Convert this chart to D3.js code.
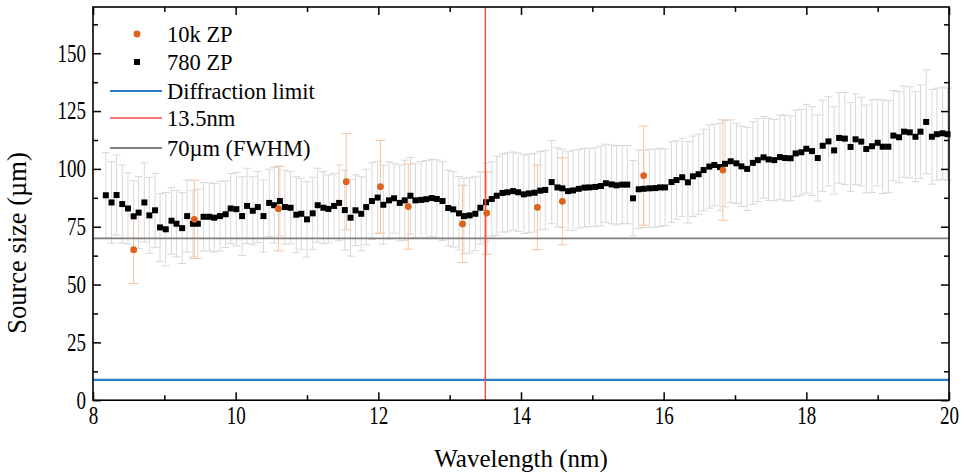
<!DOCTYPE html>
<html>
<head>
<meta charset="utf-8">
<script src="https://cdn.jsdelivr.net/npm/d3@7"></script>
<style>
  body { margin: 0; background: #fff; }
</style>
</head>
<body>
<svg id="chart" width="964" height="472"></svg>
<script>
// 780 ZP measurements (wavelength in nm, source size and error in um)
var wl780 = [8.18,8.26,8.33,8.41,8.49,8.57,8.64,8.72,8.79,8.87,8.94,9.02,9.10,9.17,9.25,9.32,9.40,9.47,9.55,9.63,9.70,9.78,9.86,9.93,10.01,
  10.09,10.16,10.24,10.31,10.39,10.47,10.54,10.62,10.69,10.77,10.85,10.92,11.00,11.08,11.15,11.23,11.30,11.38,11.45,11.53,11.61,11.68,11.76,11.83,11.91,11.99,
  12.07,12.15,12.22,12.30,12.37,12.45,12.52,12.60,12.67,12.75,12.82,12.90,12.98,13.05,13.13,13.20,13.28,13.36,13.43,13.51,13.59,13.66,13.74,13.81,13.89,13.96,
  14.04,14.11,14.19,14.27,14.34,14.43,14.51,14.58,14.66,14.73,14.81,14.89,14.96,15.04,15.12,15.19,15.27,15.34,15.42,15.49,15.57,15.65,15.72,15.80,15.88,15.95,
  16.02,16.11,16.18,16.26,16.34,16.41,16.49,16.56,16.64,16.71,16.79,16.86,16.94,17.02,17.09,17.17,17.25,17.32,17.40,17.47,17.55,17.63,17.70,17.78,17.85,17.93,18.00,
  18.08,18.16,18.23,18.31,18.39,18.46,18.54,18.62,18.69,18.77,18.84,18.92,19.00,19.07,19.15,19.22,19.30,19.37,19.45,19.53,19.60,19.68,19.76,19.83,19.91,19.98];
var size780 = [88.6,85.5,88.7,84.8,82.9,79.5,81.1,85.5,79.9,82.1,74.7,73.9,77.6,76.3,74.4,79.6,76.3,76.3,79.3,79.3,78.9,79.6,80.4,82.9,82.6,
  79.6,84.0,81.9,83.5,79.6,85.3,84.3,86.1,83.5,83.2,80.2,80.6,78.2,80.8,84.3,83.2,82.7,84.0,85.3,82.2,78.9,82.1,80.6,83.5,86.1,87.6,
  84.5,86.4,87.3,85.3,86.4,88.4,86.4,86.6,86.9,87.4,87.0,86.1,83.1,82.5,80.8,79.6,79.9,80.6,83.2,85.6,87.0,88.4,89.6,89.9,90.4,89.9,
  89.0,89.4,89.7,90.6,90.9,94.3,92.0,91.6,90.4,90.7,91.4,91.9,92.0,92.2,92.6,93.8,93.3,92.9,93.2,93.2,87.3,91.2,91.4,91.6,91.7,92.0,
  92.0,94.3,95.2,96.4,94.2,96.8,97.7,99.5,101.0,101.7,100.8,102.2,103.3,102.4,101.1,100.0,102.6,103.8,105.0,104.1,103.8,105.1,104.7,104.6,106.7,107.2,108.7,
  107.7,104.7,110.0,111.9,108.0,113.4,113.1,109.5,112.8,111.8,108.6,109.8,111.3,109.6,109.6,114.4,113.7,116.1,115.8,113.9,116.1,120.3,113.9,115.0,115.4,115.0];
var err780 = [18.4,17.6,17.3,16.9,15.4,15.4,15.6,17.1,16.4,16.0,14.7,15.9,14.4,14.3,15.3,15.6,14.3,15.0,14.8,14.7,14.8,15.1,14.4,15.1,15.9,
  17.0,16.3,14.7,15.3,15.6,14.6,16.4,15.1,16.0,15.6,16.4,15.3,16.3,15.6,16.0,15.6,14.7,14.1,16.4,17.3,16.6,15.3,16.0,16.3,16.6,15.6,
  17.1,16.7,15.1,16.4,17.4,16.6,16.0,16.6,16.7,16.7,16.9,17.0,16.4,16.3,15.9,16.3,16.3,16.0,15.6,16.9,16.1,17.1,16.9,17.1,16.9,16.9,
  17.0,17.0,17.0,16.9,17.0,18.0,17.1,16.9,17.0,17.4,17.0,17.0,16.9,17.0,17.3,16.9,17.0,17.1,16.9,16.9,16.3,17.0,16.7,16.9,16.9,16.9,
  16.6,17.4,17.0,16.9,17.6,17.4,17.4,17.6,18.0,17.7,18.9,18.6,17.9,17.3,17.4,18.0,17.9,18.0,17.6,17.7,17.6,18.2,18.6,18.3,18.7,18.6,19.2,
  19.2,18.6,19.7,19.3,18.9,19.6,19.9,19.2,19.6,19.2,19.0,20.0,18.7,20.2,19.9,19.5,19.7,19.7,19.7,19.5,20.2,22.5,20.5,19.9,19.9,19.9];

// 10k ZP measurements
var wl10k = [8.57, 9.42, 10.60, 11.55, 12.03, 12.42, 13.18, 13.52, 14.23, 14.58, 15.72, 16.83];
var size10k = [65.1, 78.2, 82.8, 94.5, 92.3, 83.7, 76.2, 80.9, 83.4, 86.0, 97.1, 99.5];
var err10k = [14.6, 16.9, 18.2, 20.8, 20.0, 18.4, 16.7, 17.8, 18.3, 18.8, 21.4, 21.7];

// reference lines
var diffractionLimit = 8.8;
var fwhmLine = 70;
var wlMarker = 13.5;

var legendLabels = ["10k ZP", "780 ZP", "Diffraction limit", "13.5nm", "70\u00b5m (FWHM)"];

var serif = "'Liberation Serif', 'Times New Roman', 'DejaVu Serif', serif";
var colOrange = "rgb(221,98,28)";
var colOrangeErr = "rgb(246,196,160)";
var colGrayErr = "rgb(216,216,216)";
var colBlue = "rgb(40,126,200)";
var colRed = "rgb(238,80,70)";
var colGray = "rgb(128,128,128)";

var pLeft = 93, pRight = 949, pTop = 7, pBottom = 400.2;

var x = d3.scaleLinear().domain([8, 20]).range([pLeft, pRight]);
var y = d3.scaleLinear().domain([0, 170]).range([pBottom, pTop]);

var svg = d3.select("#chart");

var d780 = wl780.map(function(w, i) { return {x: w, y: size780[i], e: err780[i]}; });
var d10k = wl10k.map(function(w, i) { return {x: w, y: size10k[i], e: err10k[i]}; });

function errorBars(data, color, cap, width) {
    var g = svg.append("g").attr("stroke", color).attr("stroke-width", width).attr("fill", "none");
    g.selectAll("path")
        .data(data)
        .enter()
        .append("path")
            .attr("d", function(d) {
                var cx = x(d.x), y1 = y(d.y + d.e), y2 = y(d.y - d.e);
                return "M" + cx + "," + y1 + "V" + y2 +
                    "M" + (cx - cap) + "," + y1 + "H" + (cx + cap) +
                    "M" + (cx - cap) + "," + y2 + "H" + (cx + cap);
            });
}

errorBars(d780, colGrayErr, 4, 1);
errorBars(d10k, colOrangeErr, 5, 1);

// horizontal reference lines
svg.append("line")
    .attr("x1", pLeft).attr("x2", pRight)
    .attr("y1", y(fwhmLine)).attr("y2", y(fwhmLine))
    .attr("stroke", colGray).attr("stroke-width", 1.8);
svg.append("line")
    .attr("x1", pLeft).attr("x2", pRight)
    .attr("y1", y(diffractionLimit)).attr("y2", y(diffractionLimit))
    .attr("stroke", colBlue).attr("stroke-width", 2.2);

// 780 ZP squares
svg.append("g")
    .selectAll("rect")
    .data(d780)
    .enter()
    .append("rect")
        .attr("x", function(d) { return x(d.x) - 3; })
        .attr("y", function(d) { return y(d.y) - 3; })
        .attr("width", 6)
        .attr("height", 6)
        .attr("fill", "#000");

// 13.5 nm marker
svg.append("line")
    .attr("x1", x(wlMarker)).attr("x2", x(wlMarker))
    .attr("y1", pTop).attr("y2", pBottom)
    .attr("stroke", colRed).attr("stroke-width", 1.5);

// 10k ZP dots
svg.append("g")
    .selectAll("circle")
    .data(d10k)
    .enter()
    .append("circle")
        .attr("cx", function(d) { return x(d.x); })
        .attr("cy", function(d) { return y(d.y); })
        .attr("r", 3.4)
        .attr("fill", colOrange);

// Axes (ticks point inward on all four sides)
var major = [8, 10, 12, 14, 16, 18, 20];
var minorX = [9, 11, 13, 15, 17, 19];
var majorY = [0, 25, 50, 75, 100, 125, 150];
var minorY = [12.5, 37.5, 62.5, 87.5, 112.5, 137.5, 162.5];

function axisGroup(axis, tx, ty) {
    var g = svg.append("g").attr("transform", "translate(" + tx + "," + ty + ")").call(axis);
    g.select(".domain").remove();
    g.attr("font-family", null).attr("font-size", null);
    g.selectAll("line").attr("stroke", "#000").attr("stroke-width", 1.5);
    return g;
}

var xb = axisGroup(d3.axisBottom(x).tickValues(major).tickSize(-8).tickPadding(5).tickFormat(d3.format("d")), 0, pBottom);
axisGroup(d3.axisBottom(x).tickValues(minorX).tickSize(-5).tickFormat(""), 0, pBottom);
axisGroup(d3.axisTop(x).tickValues(major).tickSize(-8).tickFormat(""), 0, pTop);
axisGroup(d3.axisTop(x).tickValues(minorX).tickSize(-5).tickFormat(""), 0, pTop);
var yl = axisGroup(d3.axisLeft(y).tickValues(majorY).tickSize(-8).tickPadding(7).tickFormat(d3.format("d")), pLeft, 0);
axisGroup(d3.axisLeft(y).tickValues(minorY).tickSize(-5).tickFormat(""), pLeft, 0);
axisGroup(d3.axisRight(y).tickValues(majorY).tickSize(-8).tickFormat(""), pRight, 0);
axisGroup(d3.axisRight(y).tickValues(minorY).tickSize(-5).tickFormat(""), pRight, 0);

// tick labels in the original are drawn taller than wide
xb.selectAll("text").style("font-family", serif).style("font-size", "19px").attr("fill", "#000")
    .attr("transform", "scale(1,1.3)");
yl.selectAll("text").style("font-family", serif).style("font-size", "19px").attr("fill", "#000")
    .attr("transform", "scale(1,1.3)");

// frame
svg.append("rect")
    .attr("x", pLeft).attr("y", pTop)
    .attr("width", pRight - pLeft).attr("height", pBottom - pTop)
    .attr("fill", "none").attr("stroke", "#000").attr("stroke-width", 1.6);

// Axis labels
svg.append("text")
    .attr("x", (pLeft + pRight) / 2)
    .attr("y", 467)
    .style("text-anchor", "middle")
    .style("font-family", serif)
    .style("font-size", "25px")
    .text("Wavelength (nm)");

svg.append("text")
    .attr("transform", "rotate(-90)")
    .attr("x", -243)
    .attr("y", 26)
    .style("text-anchor", "middle")
    .style("font-family", serif)
    .style("font-size", "26.5px")
    .text("Source size (\u00b5m)");

// Legend
var legY = [34, 62, 91, 118, 148];
var leg = svg.append("g");
leg.append("circle").attr("cx", 137).attr("cy", legY[0]).attr("r", 3.4).attr("fill", colOrange);
leg.append("rect").attr("x", 134).attr("y", legY[1] - 3).attr("width", 6).attr("height", 6).attr("fill", "#000");
leg.append("line").attr("x1", 110).attr("x2", 162).attr("y1", legY[2]).attr("y2", legY[2]).attr("stroke", colBlue).attr("stroke-width", 2);
leg.append("line").attr("x1", 110).attr("x2", 162).attr("y1", legY[3]).attr("y2", legY[3]).attr("stroke", colRed).attr("stroke-width", 1.5);
leg.append("line").attr("x1", 110).attr("x2", 162).attr("y1", legY[4]).attr("y2", legY[4]).attr("stroke", colGray).attr("stroke-width", 1.8);
leg.selectAll("text")
    .data(legendLabels)
    .enter()
    .append("text")
        .attr("x", 167)
        .attr("y", function(d, i) { return legY[i] + 8; })
        .style("font-family", serif)
        .style("font-size", "22.5px")
        .text(function(d) { return d; });
</script>
</body>
</html>
